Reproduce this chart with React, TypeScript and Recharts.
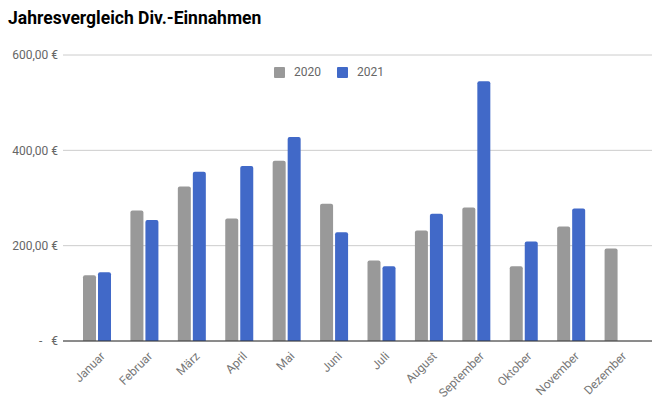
import React from 'react';
import { BarChart, Bar, XAxis, YAxis, CartesianGrid } from 'recharts';

const months = ['Januar', 'Februar', 'März', 'April', 'Mai', 'Juni', 'Juli', 'August', 'September', 'Oktober', 'November', 'Dezember'];
const values2020 = [138, 274, 324, 257, 378, 288, 169, 232, 280, 157, 240, 194];
const values2021: (number | null)[] = [144, 254, 355, 367, 428, 228, 157, 267, 545, 209, 278, null];
const yTicks = [0, 200, 400, 600];

const GRAY = '#999999';
const BLUE = '#4169c8';
const FONT = 'Roboto, "Open Sans", sans-serif';

const data = months.map((m, i) => ({ month: m, y2020: values2020[i], y2021: values2021[i] }));

const formatEuro = (v: number) => (v === 0 ? '-\u00a0\u00a0\u00a0€' : v.toFixed(2).replace('.', ',') + ' €');

const MonthTick = (props: any) => {
  const { x, y, payload } = props;
  return (
    <g transform={`translate(${x + 3},${y + 2})`}>
      <text transform="rotate(-45)" textAnchor="end" dy="0.7em" fill="#777" fontSize={12} fontFamily={FONT}>
        {payload.value}
      </text>
    </g>
  );
};

const legendItems: [string, string][] = [['2020', GRAY], ['2021', BLUE]];

export default function App() {
  return (
    <div style={{ position: 'absolute', left: 0, top: 0, width: 658, height: 400, background: '#fff' }}>
      <div style={{ position: 'absolute', left: 8, top: 8, fontFamily: FONT, fontWeight: 'bold', fontSize: 17.5, color: '#000' }}>
        Jahresvergleich Div.-Einnahmen
      </div>
      <div style={{ position: 'absolute', top: 65, left: 0, width: 658, display: 'flex', justifyContent: 'center', gap: 16, fontFamily: FONT, fontSize: 12, color: '#666' }}>
        {legendItems.map(([label, color]) => (
          <div key={label} style={{ display: 'flex', alignItems: 'center' }}>
            <span style={{ display: 'inline-block', width: 11, height: 11, background: color, borderRadius: 1, marginRight: 9 }} />
            {label}
          </div>
        ))}
      </div>
      <BarChart width={658} height={400} data={data} margin={{ top: 55, right: 6, bottom: 0, left: 0 }} barGap={2}>
        <CartesianGrid vertical={false} stroke="#cccccc" />
        <XAxis
          dataKey="month"
          height={59}
          interval={0}
          padding={{ left: 10, right: 10 }}
          tickLine={false}
          axisLine={{ stroke: '#333', strokeWidth: 1 }}
          tick={<MonthTick />}
        />
        <YAxis
          width={63}
          domain={[0, 600]}
          ticks={yTicks}
          axisLine={false}
          tickLine={false}
          tickSize={0}
          tickMargin={5}
          tickFormatter={formatEuro}
          tick={{ fill: '#666', fontSize: 12, fontFamily: FONT }}
        />
        <Bar dataKey="y2020" name="2020" fill={GRAY} barSize={13} radius={[2, 2, 0, 0]} isAnimationActive={false} />
        <Bar dataKey="y2021" name="2021" fill={BLUE} barSize={13} radius={[2, 2, 0, 0]} isAnimationActive={false} />
      </BarChart>
    </div>
  );
}
